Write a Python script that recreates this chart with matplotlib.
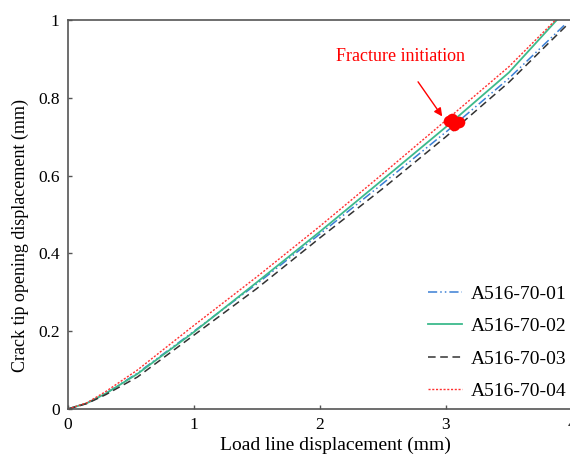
import matplotlib.pyplot as plt

plt.rcParams['font.family'] = ['Liberation Serif', 'DejaVu Serif']

# load line displacement (mm) vs crack tip opening displacement (mm)
x01 = [0, 0.15, 0.3, 0.55, 1.0, 1.5, 2.0, 2.5, 3.0, 3.5, 3.95]
y01 = [0, 0.015, 0.040, 0.092, 0.200, 0.322, 0.450, 0.580, 0.712, 0.850, 0.990]
x02 = [0, 0.15, 0.3, 0.55, 1.0, 1.5, 2.0, 2.5, 3.0, 3.5, 3.88]
y02 = [0, 0.015, 0.040, 0.090, 0.198, 0.326, 0.456, 0.590, 0.725, 0.865, 1.0]
x03 = [0, 0.15, 0.3, 0.55, 1.0, 1.5, 2.0, 2.5, 3.0, 3.5, 3.97]
y03 = [0, 0.014, 0.037, 0.082, 0.190, 0.310, 0.440, 0.567, 0.700, 0.840, 0.990]
x04 = [0, 0.15, 0.3, 0.55, 1.0, 1.5, 2.0, 2.5, 3.0, 3.5, 3.87]
y04 = [0, 0.016, 0.045, 0.100, 0.215, 0.340, 0.470, 0.605, 0.742, 0.880, 1.0]
labels = ['A516-70-01', 'A516-70-02', 'A516-70-03', 'A516-70-04']

# fracture initiation point
frac_x = [3.02, 3.06, 3.10, 3.05]
frac_y = [0.740, 0.731, 0.737, 0.745]

fig = plt.figure(figsize=(5.7, 4.54), dpi=100)
ax = fig.add_axes([0.1193, 0.0991, 0.8842, 0.857])

ax.plot(x01, y01, color='#3a7fd5', lw=1.1, dashes=(6, 2, 1, 2, 1, 2), label=labels[0])
ax.plot(x02, y02, color='#3dba8c', lw=1.3, label=labels[1])
ax.plot(x03, y03, color='#333333', lw=1.1, dashes=(5, 3), label=labels[2])
ax.plot(x04, y04, color='#ff3030', lw=1.0, dashes=(1.5, 1.2), label=labels[3])

ax.scatter(frac_x, frac_y, s=70, color='red', zorder=5, linewidths=0)
ax.annotate('Fracture initiation', xy=(2.97, 0.752), xytext=(2.64, 0.905),
            color='red', fontsize=13, ha='center', va='center',
            arrowprops=dict(arrowstyle='-|>', color='red', lw=1.0,
                            shrinkA=12, shrinkB=0, mutation_scale=12))

ax.set_xlim(0, 4)
ax.set_ylim(0, 1)
ax.set_xticks([0, 1, 2, 3, 4])
ax.set_xticklabels(['0', '1', '2', '3', '4'])
ax.set_yticks([0, 0.2, 0.4, 0.6, 0.8, 1.0])
ax.set_yticklabels(['0', '0.2', '0.4', '0.6', '0.8', '1'])
ax.tick_params(direction='in', length=3, width=1, color='#555555',
               labelsize=12.5, pad=6)
for side in ['left', 'bottom', 'top']:
    ax.spines[side].set_color('#555555')
    ax.spines[side].set_linewidth(1.2)
ax.spines['right'].set_visible(False)

ax.set_xlabel('Load line displacement (mm)', fontsize=14)
ax.set_ylabel('Crack tip opening displacement (mm)', fontsize=13)
ax.xaxis.set_label_coords(0.53, -0.07)
ax.yaxis.set_label_coords(-0.077, 0.447)

ax.legend(loc='lower right', frameon=False, fontsize=14, handlelength=1.75,
          labelspacing=0.76, handletextpad=0.45, borderaxespad=0,
          bbox_to_anchor=(1.004, 0.003))

fig.savefig('out.png', dpi=100)
